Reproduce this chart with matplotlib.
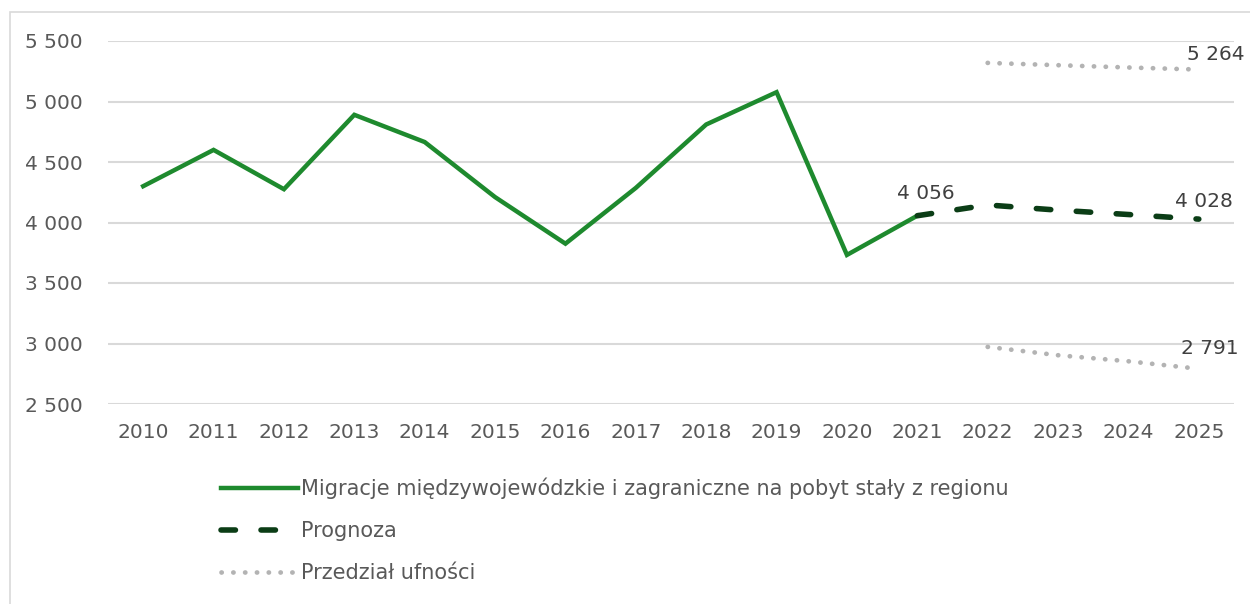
import matplotlib.pyplot as plt
from matplotlib.patches import Rectangle

plt.rcParams['font.family'] = ['DejaVu Sans']
plt.rcParams['font.size'] = 14.5

# data
years = list(range(2010, 2026))
hist_years = list(range(2010, 2022))
hist = [4300, 4600, 4275, 4890, 4665, 4210, 3825, 4286, 4810, 5077, 3732, 4056]
fc_years = [2021, 2022, 2023, 2024, 2025]
forecast = [4056, 4145, 4102, 4066, 4028]
ci_years = [2022, 2023, 2024, 2025]
ci_upper = [5319, 5300, 5281, 5264]
ci_lower = [2972, 2903, 2853, 2791]

labels = ['Migracje międzywojewódzkie i zagraniczne na pobyt stały z regionu',
          'Prognoza', 'Przedział ufności']

txt = '#595959'
green = '#1e8a2e'
dark = '#0b3d16'
grey = '#b3b3b3'
fs = 14.5

fig = plt.figure(figsize=(12.5, 6.04), dpi=100)
ax = fig.add_axes([108/1250, 1-404/604, (1234-108)/1250, (404-41)/604])

# outer chart border
fig.patches.append(Rectangle((10/1250, -0.05), 1.1, 1-12/604+0.05, transform=fig.transFigure,
                             fill=False, edgecolor='#d9d9d9', linewidth=1.2))

l1, = ax.plot(hist_years, hist, color=green, linewidth=3.2, solid_joinstyle='miter', label=labels[0])
l2, = ax.plot(fc_years, forecast, color=dark, linewidth=4, linestyle=(0, (2.6, 4.6)),
              dash_capstyle='round', label=labels[1])
l3, = ax.plot(ci_years, ci_upper, color=grey, linewidth=3.4, linestyle=(0, (0.05, 2.45)),
              dash_capstyle='round', label=labels[2])
ax.plot(ci_years, ci_lower, color=grey, linewidth=3.4, linestyle=(0, (0.05, 2.45)),
        dash_capstyle='round')

def fmt(v):
    return f'{v:,}'.replace(',', ' ')

lab = dict(textcoords='offset points', ha='center', va='bottom', color='#404040', fontsize=fs)
ax.annotate(fmt(hist[-1]), (hist_years[-1], hist[-1]), xytext=(6, 9), **lab)
ax.annotate(fmt(forecast[-1]), (fc_years[-1], forecast[-1]), xytext=(4, 6), **lab)
ax.annotate(fmt(ci_upper[-1]), (ci_years[-1], ci_upper[-1]), xytext=(12, 4), **lab)
ax.annotate(fmt(ci_lower[-1]), (ci_years[-1], ci_lower[-1]), xytext=(8, 8), **lab)

ax.set_xlim(2009.5, 2025.5)
ax.set_ylim(2500, 5500)
ax.set_yticks(range(2500, 5501, 500))
ax.set_yticklabels([fmt(v) for v in range(2500, 5501, 500)])
ax.set_xticks(years)
ax.set_xticklabels([str(y) for y in years])
ax.tick_params(length=0, colors=txt, labelsize=fs)
ax.tick_params(axis='y', pad=18)
ax.tick_params(axis='x', pad=14)
for s in ax.spines.values():
    s.set_visible(False)
ax.grid(axis='y', color='#d9d9d9', linewidth=1.5)
ax.set_axisbelow(True)

fig.legend(handles=[l1, l2, l3], loc='upper left', bbox_to_anchor=(202/1250, 1-459/604),
           frameon=False, handlelength=3.7, handletextpad=0.15, labelspacing=1.05,
           fontsize=15, labelcolor=txt)

fig.savefig('out.png', dpi=100)
